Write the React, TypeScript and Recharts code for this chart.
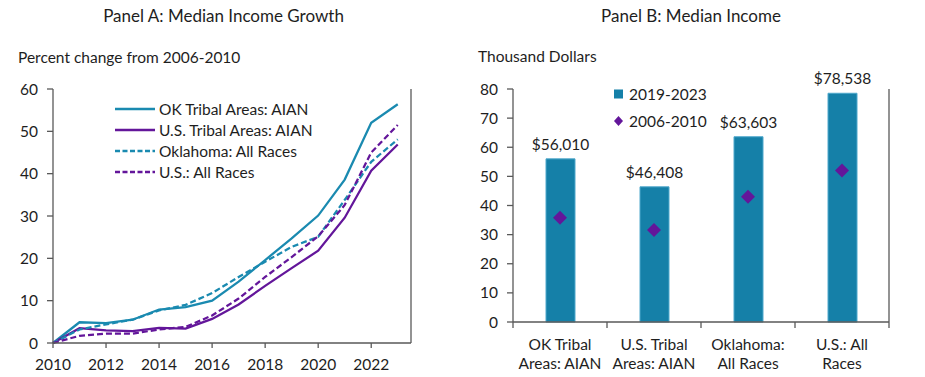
import React from "react";
import {
  LineChart,
  Line,
  XAxis,
  YAxis,
  ComposedChart,
  Bar,
  Scatter,
  LabelList,
} from "recharts";

// Panel A: percent change from 2006-2010
const years = [2010, 2011, 2012, 2013, 2014, 2015, 2016, 2017, 2018, 2019, 2020, 2021, 2022, 2023];
const okTribal = [0, 4.9, 4.7, 5.5, 7.9, 8.5, 10.0, 14.5, 19.6, 24.7, 30.1, 38.6, 52.0, 56.4];
const usTribal = [0, 3.5, 3.0, 2.8, 3.6, 3.4, 5.7, 9.1, 13.5, 17.7, 21.8, 29.6, 40.7, 46.9];
const okAll = [0, 3.2, 4.4, 5.5, 7.7, 9.0, 11.8, 15.6, 19.2, 22.7, 25.1, 33.8, 42.8, 48.1];
const usAll = [0, 1.7, 2.2, 2.2, 3.2, 3.8, 6.5, 10.5, 15.6, 20.3, 25.2, 32.6, 45.0, 51.5];
const yearTicks = [2010, 2012, 2014, 2016, 2018, 2020, 2022];
const pctTicks = [0, 10, 20, 30, 40, 50, 60];

// Panel B: median income
const groups = ["OK Tribal|Areas: AIAN", "U.S. Tribal|Areas: AIAN", "Oklahoma:|All Races", "U.S.: All|Races"];
const income2019_2023 = [56010, 46408, 63603, 78538];
const income2006_2010 = [35.8, 31.6, 43.0, 52.0]; // thousand dollars
const usdTicks = [0, 10, 20, 30, 40, 50, 60, 70, 80];

const TEAL = "#1a8ab0";
const PURPLE = "#63169a";
const BAR = "#1580a8";
const AXIS = "#595959";
const TEXT = "#1e1e1e";
const FONT = "Lato, 'Open Sans', sans-serif";
const FS = 15.5;

const lineData = years.map((y, i) => ({
  year: y,
  okTribal: okTribal[i],
  usTribal: usTribal[i],
  okAll: okAll[i],
  usAll: usAll[i],
}));

const barData = groups.map((g, i) => ({
  name: g,
  recent: income2019_2023[i] / 1000,
  dollars: income2019_2023[i],
  early: income2006_2010[i],
}));

const seriesA = [
  { key: "okTribal", label: "OK Tribal Areas: AIAN", color: TEAL, dash: undefined },
  { key: "usTribal", label: "U.S. Tribal Areas: AIAN", color: PURPLE, dash: undefined },
  { key: "okAll", label: "Oklahoma: All Races", color: TEAL, dash: "6 3" },
  { key: "usAll", label: "U.S.: All Races", color: PURPLE, dash: "6 3" },
];

const tickStyle = { fill: TEXT, fontSize: FS, fontFamily: FONT };

function LegendA() {
  return (
    <div style={{ fontSize: FS, color: TEXT }}>
      {seriesA.map((s) => (
        <div key={s.key} style={{ display: "flex", alignItems: "center", height: 21 }}>
          <svg width={42} height={6} style={{ marginRight: 2 }}>
            <line x1={0} y1={3} x2={40} y2={3} stroke={s.color} strokeWidth={2.5} strokeDasharray={s.dash ? "5 2.5" : undefined} />
          </svg>
          <span>{s.label}</span>
        </div>
      ))}
    </div>
  );
}

function LegendB() {
  return (
    <div style={{ fontSize: FS, color: TEXT }}>
      <div style={{ display: "flex", alignItems: "center", height: 27 }}>
        <svg width={14} height={10} style={{ marginRight: 1 }}>
          <rect x={0} y={0.5} width={9} height={9} fill={BAR} />
        </svg>
        <span>2019-2023</span>
      </div>
      <div style={{ display: "flex", alignItems: "center", height: 27 }}>
        <svg width={14} height={12} style={{ marginRight: 1 }}>
          <polygon points="4.5,1 9,6 4.5,11 0,6" fill={PURPLE} />
        </svg>
        <span>2006-2010</span>
      </div>
    </div>
  );
}

// two-line category label, plus a tick mark on the category boundaries
function GroupTick(props: any) {
  const { x, y, payload, index, width, visibleTicksCount } = props;
  const [a, b] = String(payload.value).split("|");
  const n = visibleTicksCount || groups.length;
  const half = Number(width) / n / 2;
  const isLast = index === n - 1;
  return (
    <g>
      <line x1={x - half} y1={y} x2={x - half} y2={y + 6} stroke={AXIS} strokeWidth={1.3} />
      {isLast && <line x1={x + half} y1={y} x2={x + half} y2={y + 6} stroke={AXIS} strokeWidth={1.3} />}
      <text x={x} y={y} textAnchor="middle" fill={TEXT} fontSize={FS} fontFamily={FONT}>
        <tspan x={x} dy={28}>{a}</tspan>
        <tspan x={x} dy={19}>{b}</tspan>
      </text>
    </g>
  );
}

function Diamond(props: any) {
  const { cx, cy } = props;
  const r = 7;
  return <polygon points={`${cx},${cy - r} ${cx + r},${cy} ${cx},${cy + r} ${cx - r},${cy}`} fill={PURPLE} />;
}

const fmtUsd = (v: any) => "$" + Number(v).toLocaleString("en-US");

export default function App() {
  return (
    <div style={{ position: "absolute", left: 0, top: 0, width: 925, height: 377, background: "#fff", fontFamily: FONT }}>
      <div style={{ position: "absolute", left: 0, width: 447, top: 5, textAlign: "center", fontSize: 17, color: TEXT }}>
        Panel A: Median Income Growth
      </div>
      <div style={{ position: "absolute", left: 18, top: 48, fontSize: FS, color: TEXT }}>
        Percent change from 2006-2010
      </div>
      <div style={{ position: "absolute", left: 470, width: 442, top: 5, textAlign: "center", fontSize: 17, color: TEXT }}>
        Panel B: Median Income
      </div>
      <div style={{ position: "absolute", left: 478, top: 47, fontSize: FS, color: TEXT }}>
        Thousand Dollars
      </div>

      <div style={{ position: "absolute", left: 0, top: 0 }}>
        <LineChart width={470} height={377} data={lineData} margin={{ top: 89, right: 19, bottom: 4, left: 13 }}>
          <XAxis
            dataKey="year"
            type="number"
            domain={[2010, 2023.5]}
            ticks={yearTicks}
            tick={tickStyle}
            tickSize={5}
            tickMargin={11}
            height={30}
            stroke={AXIS}
            strokeWidth={1.3}
          />
          <YAxis
            yAxisId="l"
            domain={[0, 60]}
            ticks={pctTicks}
            tick={tickStyle}
            tickSize={6}
            tickMargin={9}
            width={40}
            stroke={AXIS}
            strokeWidth={1.3}
          />
          <YAxis
            yAxisId="r"
            orientation="right"
            domain={[0, 60]}
            ticks={pctTicks}
            tick={tickStyle}
            tickSize={6}
            tickMargin={10}
            width={40}
            stroke={AXIS}
            strokeWidth={1.3}
          />
          {seriesA.map((s) => (
            <Line
              key={s.key}
              yAxisId="l"
              type="linear"
              dataKey={s.key}
              stroke={s.color}
              strokeWidth={2.25}
              strokeDasharray={s.dash}
              dot={false}
              activeDot={false}
              isAnimationActive={false}
            />
          ))}
        </LineChart>
      </div>
      <div style={{ position: "absolute", left: 115, top: 98 }}>
        <LegendA />
      </div>

      <div style={{ position: "absolute", left: 470, top: 0 }}>
        <ComposedChart width={455} height={377} data={barData} margin={{ top: 89, right: 6, bottom: 5, left: 13 }}>
          <XAxis
            dataKey="name"
            type="category"
            tick={<GroupTick />}
            tickLine={false}
            tickSize={0}
            tickMargin={0}
            height={50}
            interval={0}
            stroke={AXIS}
            strokeWidth={1.3}
          />
          <YAxis
            yAxisId="l"
            domain={[0, 80]}
            ticks={usdTicks}
            tick={tickStyle}
            tickSize={6}
            tickMargin={9}
            width={30}
            stroke={AXIS}
            strokeWidth={1.3}
          />
          <YAxis
            yAxisId="r"
            orientation="right"
            domain={[0, 80]}
            ticks={usdTicks}
            tick={tickStyle}
            tickSize={6}
            tickMargin={10}
            width={30}
            stroke={AXIS}
            strokeWidth={1.3}
          />
          <Bar
            yAxisId="l"
            dataKey="recent"
            fill={BAR}
            stroke="#4fa8cc"
            strokeWidth={1}
            barSize={29}
            isAnimationActive={false}
          >
            <LabelList dataKey="dollars" position="top" offset={9} formatter={fmtUsd} fill={TEXT} fontSize={FS} fontFamily={FONT} />
          </Bar>
          <Scatter
            yAxisId="l"
            dataKey="early"
            fill={PURPLE}
            shape={<Diamond />}
            isAnimationActive={false}
          />
        </ComposedChart>
      </div>
      <div style={{ position: "absolute", left: 614, top: 80 }}>
        <LegendB />
      </div>
    </div>
  );
}
